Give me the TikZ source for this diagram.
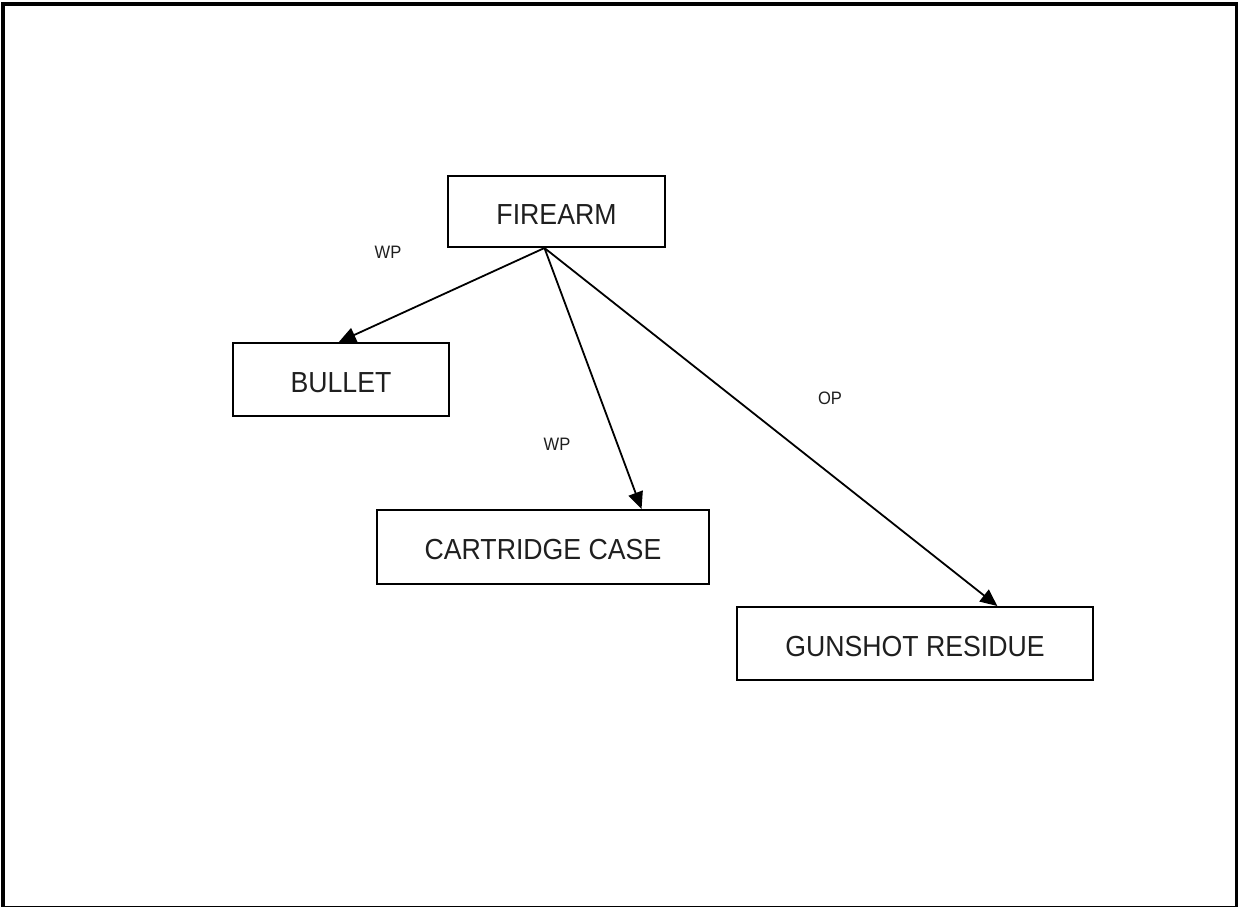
\documentclass[tikz,border=0pt]{standalone}
\usepackage{fontspec}
\setmainfont{Liberation Sans}
\newfontfamily\boxfont[FakeStretch=0.92]{Liberation Sans}
\usetikzlibrary{arrows.meta,calc}
\newcommand{\lowertext}[1]{\raisebox{-3pt}[\height][\depth]{#1}}
\tikzset{
  boxnode/.style={draw=black, line width=2pt, minimum height=73pt, inner sep=0pt,
    font=\boxfont\fontsize{29}{32}\selectfont, text=black!88},
  lbl/.style={font=\boxfont\fontsize{18}{20}\selectfont, text=black!88, inner sep=0pt},
  conn/.style={draw=black, line width=1.8pt, -{Triangle[length=17pt,width=15pt]}}
}
\begin{document}
\begin{tikzpicture}[x=1pt,y=-1pt]
\path[use as bounding box, clip] (0,0) rectangle (1238,906);
\fill[white] (0,0) rectangle (1238,906);
\draw[line width=4pt] (3,4) rectangle (1236.5,908);

\node[boxnode, minimum width=217pt, minimum height=71pt] (fire) at (556.5,211.5) {\lowertext{FIREARM}};
\node[boxnode, minimum width=216pt] (bullet) at (341,379.5) {\lowertext{BULLET}};
\node[boxnode, minimum width=332pt, minimum height=74pt] (cart) at (543,547) {\lowertext{CARTRIDGE CASE}};
\node[boxnode, minimum width=356pt] (gsr) at (915,643.5) {\lowertext{GUNSHOT RESIDUE}};

\coordinate (src) at ($(fire.south west)!0.445!(fire.south east)$);
\coordinate (tb) at ($(bullet.north west)!0.49!(bullet.north east)$);
\coordinate (tc) at ($(cart.north west)!0.795!(cart.north east)$);
\coordinate (tg) at ($(gsr.north west)!0.73!(gsr.north east)$);

\draw[conn] (src) -- (tb);
\draw[conn] (src) -- (tc);
\draw[conn] (src) -- (tg);

\node[lbl] (l1) at (388,252) {WP};
\node[lbl] (l2) at (557,444) {WP};
\node[lbl] (l3) at (830,398) {OP};
\end{tikzpicture}
\end{document}
